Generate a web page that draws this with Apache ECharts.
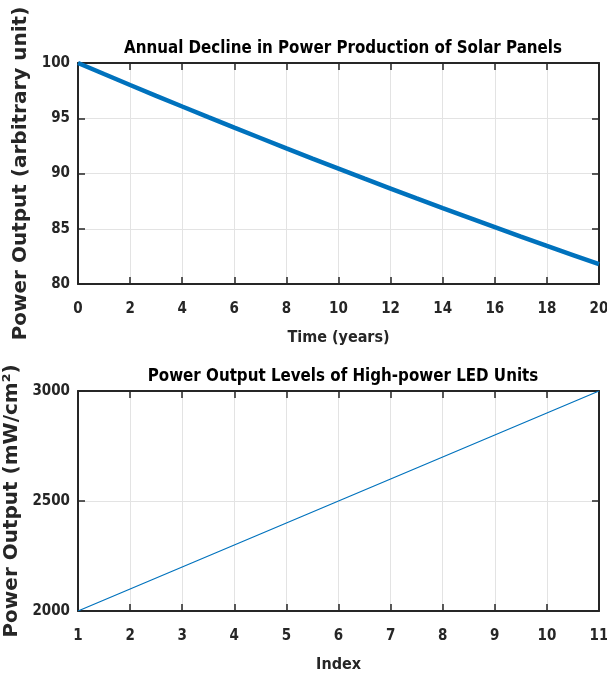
<!DOCTYPE html>
<html>
<head>
<meta charset="utf-8">
<script src="https://cdn.jsdelivr.net/npm/echarts@6/dist/echarts.min.js"></script>
<style>
  html, body { margin: 0; padding: 0; background: #fff; }
  #chart { width: 607px; height: 677px; }
</style>
</head>
<body>
<div id="chart"></div>
<script>
// top plot: solar panel output per year
var years = [0, 1, 2, 3, 4, 5, 6, 7, 8, 9, 10, 11, 12, 13, 14, 15, 16, 17, 18, 19, 20];
var solarOutput = [100, 99, 98.01, 97.03, 96.06, 95.1, 94.15, 93.21, 92.27, 91.35, 90.44,
                   89.53, 88.64, 87.75, 86.87, 86.01, 85.15, 84.29, 83.45, 82.62, 81.79];

// bottom plot: LED unit power levels
var ledIndex = [1, 2, 3, 4, 5, 6, 7, 8, 9, 10, 11];
var ledOutput = [2000, 2100, 2200, 2300, 2400, 2500, 2600, 2700, 2800, 2900, 3000];

var narrow = '"DejaVu Sans Condensed", "Liberation Sans", Arial, sans-serif';
var wide = '"DejaVu Sans", "Liberation Sans", Arial, sans-serif';
var axisCol = '#262626';
var lineCol = '#0072BD';

function pairs(xs, ys) {
    return xs.map(function (x, i) { return [x, ys[i]]; });
}
function plain(v) { return String(v); }

// main axis (with labels)
function mainX(idx, min, max, step, name) {
    return {
        type: 'value', gridIndex: idx, min: min, max: max, interval: step,
        position: 'bottom',
        name: name, nameLocation: 'middle', nameGap: 46,
        nameTextStyle: { fontFamily: narrow, fontWeight: 'bold', fontSize: 16, color: axisCol },
        axisLine: { show: true, onZero: false, lineStyle: { color: axisCol, width: 2 } },
        axisTick: { show: true, inside: true, length: 7, lineStyle: { color: axisCol, width: 1.5 } },
        axisLabel: { fontFamily: narrow, fontWeight: 'bold', fontSize: 15, color: axisCol, margin: 18, formatter: plain },
        splitLine: { show: true, lineStyle: { color: '#e3e3e3', width: 1 } }
    };
}
function mainY(idx, min, max, step, name) {
    return {
        type: 'value', gridIndex: idx, min: min, max: max, interval: step,
        position: 'left',
        name: name, nameLocation: 'middle', nameGap: 42, nameRotate: 90,
        nameTextStyle: { fontFamily: wide, fontWeight: 'bold', fontSize: 20, color: axisCol },
        axisLine: { show: true, onZero: false, lineStyle: { color: axisCol, width: 2 } },
        axisTick: { show: true, inside: true, length: 7, lineStyle: { color: axisCol, width: 1.5 } },
        axisLabel: { fontFamily: narrow, fontWeight: 'bold', fontSize: 15, color: axisCol, margin: 8, formatter: plain },
        splitLine: { show: true, lineStyle: { color: '#e3e3e3', width: 1 } }
    };
}
// box edges (top / right) with inward ticks, no labels
function boxAxis(kind, idx, min, max, step) {
    return {
        type: 'value', gridIndex: idx, min: min, max: max, interval: step,
        position: kind === 'x' ? 'top' : 'right',
        axisLine: { show: true, onZero: false, lineStyle: { color: axisCol, width: 2 } },
        axisTick: { show: true, inside: true, length: 7, lineStyle: { color: axisCol, width: 1.5 } },
        axisLabel: { show: false },
        splitLine: { show: false }
    };
}

var option = {
    animation: false,
    backgroundColor: '#fff',
    title: [
        {
            text: 'Annual Decline in Power Production of Solar Panels',
            left: 338, top: 35, textAlign: 'center',
            textStyle: { fontFamily: narrow, fontWeight: 'bold', fontSize: 16.8, color: '#000' }
        },
        {
            text: 'Power Output Levels of High-power LED Units',
            left: 338, top: 363, textAlign: 'center',
            textStyle: { fontFamily: narrow, fontWeight: 'bold', fontSize: 16.8, color: '#000' }
        }
    ],
    grid: [
        { left: 78, top: 63, width: 521, height: 221, containLabel: false, outerBoundsMode: 'none' },
        { left: 78, top: 391, width: 521, height: 220, containLabel: false, outerBoundsMode: 'none' }
    ],
    xAxis: [
        mainX(0, 0, 20, 2, 'Time (years)'),
        boxAxis('x', 0, 0, 20, 2),
        mainX(1, 1, 11, 1, 'Index'),
        boxAxis('x', 1, 1, 11, 1)
    ],
    yAxis: [
        mainY(0, 80, 100, 5, 'Power Output (arbitrary unit)'),
        boxAxis('y', 0, 80, 100, 5),
        mainY(1, 2000, 3000, 500, 'Power Output (mW/cm²)'),
        boxAxis('y', 1, 2000, 3000, 500)
    ],
    series: [
        {
            type: 'line', xAxisIndex: 0, yAxisIndex: 0,
            data: pairs(years, solarOutput),
            showSymbol: false,
            lineStyle: { color: lineCol, width: 4.5 }
        },
        {
            type: 'line', xAxisIndex: 2, yAxisIndex: 2,
            data: pairs(ledIndex, ledOutput),
            showSymbol: false,
            lineStyle: { color: lineCol, width: 1.2 }
        }
    ]
};

var chart = echarts.init(document.getElementById('chart'));
chart.setOption(option);
</script>
</body>
</html>
